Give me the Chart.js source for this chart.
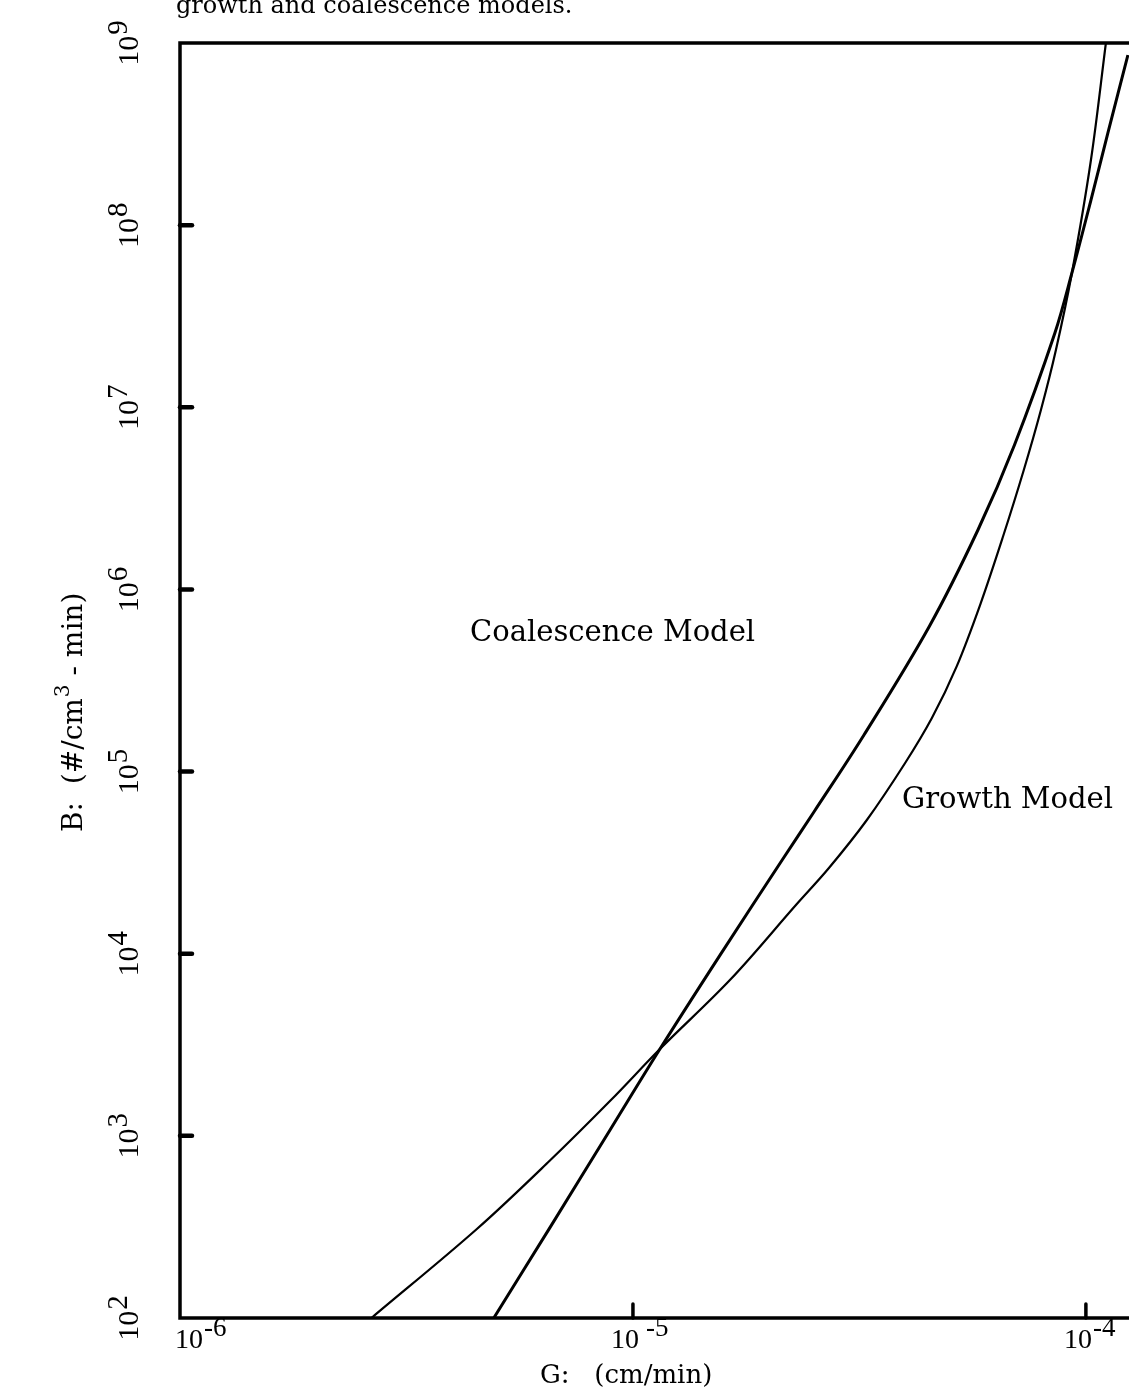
<!DOCTYPE html>
<html>
<head>
<meta charset="utf-8">
<script src="https://cdn.jsdelivr.net/npm/chart.js@4.4.1/dist/chart.umd.min.js"></script>
<style>
html,body{margin:0;padding:0;background:#ffffff;overflow:hidden}
canvas{display:block}
</style>
</head>
<body>
<canvas id="chart" width="1129" height="1396"></canvas>
<script>
// ---- data ----
const growthG = [2.646e-6, 4.523e-6, 6.557e-6, 8.942e-6, 1.147e-5, 1.645e-5, 2.290e-5, 2.708e-5, 3.284e-5, 3.983e-5, 4.571e-5, 5.182e-5, 5.850e-5, 6.557e-5, 7.293e-5, 7.956e-5, 8.586e-5, 9.314e-5, 1.026e-4, 1.107e-4];
const growthB = [100, 308, 732, 1573, 2998, 7262, 18510, 29550, 54220, 110700, 196800, 376900, 831700, 1.940e6, 4.527e6, 9.663e6, 2.063e7, 5.462e7, 2.279e8, 1e9];
const coalG = [4.929e-6, 6.557e-6, 8.942e-6, 1.147e-5, 1.566e-5, 2.137e-5, 2.509e-5, 3.236e-5, 4.507e-5, 5.776e-5, 6.955e-5, 8.542e-5, 9.314e-5, 1.026e-4, 1.118e-4, 1.238e-4];
const coalB = [100, 313.5, 1098, 2998, 10050, 32780, 59980, 158800, 624300, 2.120e6, 6.207e6, 2.557e7, 5.462e7, 1.374e8, 3.204e8, 8.59e8];

const seriesNames = ["Coalescence Model", "Growth Model"];
const yTickExp = [2, 3, 4, 5, 6, 7, 8, 9];
const yTickMarkExp = [3, 4, 5, 6, 7, 8];
const xTickExp = [-6, -5, -4];
const xTickMarkExp = [-5, -4];
const xMin = 1e-6, xMax = 1.245e-4, yMin = 1e2, yMax = 1e9;
const captionText = "growth and coalescence models.";
const xTitleText = "G:   (cm/min)";
const yTitleParts = ["B:  (#/cm", "3", " - min)"];

const toPts = (xs, ys) => xs.map((x, i) => ({x: x, y: ys[i]}));

const SERIF = '"DejaVu Serif", serif';
const NUMF = '"Liberation Serif", serif';

function powWidth(ctx, base, exp, f1, f2, gap) {
  ctx.font = f1; const w1 = ctx.measureText(base).width;
  ctx.font = f2; const w2 = ctx.measureText(exp).width;
  return w1 + gap + w2;
}
function drawPow(ctx, base, exp, x, y, f1, f2, rise, gap) {
  ctx.font = f1; ctx.fillText(base, x, y);
  const w1 = ctx.measureText(base).width;
  ctx.font = f2; ctx.fillText(exp, x + w1 + gap, y - rise);
}

const decor = {
  id: 'decor',
  afterDatasetsDraw(chart) {
    const ctx = chart.ctx;
    const xs = chart.scales.x, ys = chart.scales.y;
    const L = xs.getPixelForValue(xMin), R = chart.chartArea.right;
    const T = ys.getPixelForValue(yMax), B = ys.getPixelForValue(yMin);
    ctx.save();
    ctx.strokeStyle = '#000'; ctx.fillStyle = '#000';
    ctx.lineCap = 'square';
    // frame
    ctx.lineWidth = 3.5;
    ctx.beginPath();
    ctx.moveTo(R + 2, T); ctx.lineTo(L, T); ctx.lineTo(L, B); ctx.lineTo(R + 2, B);
    ctx.stroke();
    // y tick marks (inward)
    ctx.lineWidth = 4.5; ctx.lineCap = 'round';
    yTickMarkExp.forEach(e => {
      const py = ys.getPixelForValue(Math.pow(10, e));
      ctx.beginPath(); ctx.moveTo(L, py); ctx.lineTo(L + 12, py); ctx.stroke();
    });
    // x tick marks (inward)
    ctx.lineWidth = 3.5;
    xTickMarkExp.forEach(e => {
      const px = xs.getPixelForValue(Math.pow(10, e));
      ctx.beginPath(); ctx.moveTo(px, B); ctx.lineTo(px, B - 14); ctx.stroke();
    });
    // y tick labels (rotated)
    ctx.textBaseline = 'alphabetic'; ctx.textAlign = 'left';
    const yf1 = '30px ' + NUMF, yf2 = '29px ' + NUMF;
    yTickExp.forEach(e => {
      const py = ys.getPixelForValue(Math.pow(10, e));
      const w = powWidth(ctx, '10', String(e), yf1, yf2, 1);
      ctx.save();
      ctx.translate(138, py);
      ctx.rotate(-Math.PI / 2);
      drawPow(ctx, '10', String(e), -w / 2, 0, yf1, yf2, 11, 1);
      ctx.restore();
    });
    // x tick labels
    const xf1 = '28px ' + NUMF, xf2 = '27px ' + NUMF;
    xTickExp.forEach(e => {
      const px = xs.getPixelForValue(Math.pow(10, e));
      const x0 = Math.max(px - 22, L - 5);
      drawPow(ctx, '10', '-' + String(-e), x0, 1348, xf1, xf2, 12, e === -5 ? 7 : 1);
    });
    // axis titles
    ctx.font = '26px ' + SERIF;
    ctx.fillText(xTitleText, 540, 1383);
    ctx.save();
    ctx.translate(82, 832);
    ctx.rotate(-Math.PI / 2);
    ctx.font = '28px ' + SERIF;
    ctx.fillText(yTitleParts[0], 0, 0);
    let w = ctx.measureText(yTitleParts[0]).width;
    ctx.font = '20px ' + SERIF;
    ctx.fillText(yTitleParts[1], w + 1, -13);
    w += ctx.measureText(yTitleParts[1]).width + 1;
    ctx.font = '28px ' + SERIF;
    ctx.fillText(yTitleParts[2], w, 0);
    ctx.restore();
    // series labels
    ctx.font = '29px ' + SERIF;
    ctx.fillText(seriesNames[0], 470, 641);
    ctx.fillText(seriesNames[1], 902, 808);
    // caption (cut off at the top of the page)
    ctx.font = '24px ' + SERIF;
    ctx.fillText(captionText, 176, 13);
    ctx.restore();
  }
};

new Chart(document.getElementById('chart'), {
  type: 'scatter',
  data: {
    datasets: [
      {
        label: seriesNames[0],
        data: toPts(coalG, coalB),
        showLine: true,
        borderColor: '#000',
        backgroundColor: '#000',
        borderWidth: 3,
        pointRadius: 0,
        tension: 0.35
      },
      {
        label: seriesNames[1],
        data: toPts(growthG, growthB),
        showLine: true,
        borderColor: '#000',
        backgroundColor: '#000',
        borderWidth: 2.2,
        pointRadius: 0,
        tension: 0.35
      }
    ]
  },
  options: {
    responsive: false,
    devicePixelRatio: 1,
    animation: false,
    layout: { padding: { left: 180, top: 43, right: 0, bottom: 78 } },
    plugins: { legend: { display: false }, tooltip: { enabled: false }, title: { display: false } },
    scales: {
      x: { type: 'logarithmic', min: xMin, max: xMax, display: false },
      y: { type: 'logarithmic', min: yMin, max: yMax, display: false }
    }
  },
  plugins: [decor]
});
</script>
</body>
</html>
